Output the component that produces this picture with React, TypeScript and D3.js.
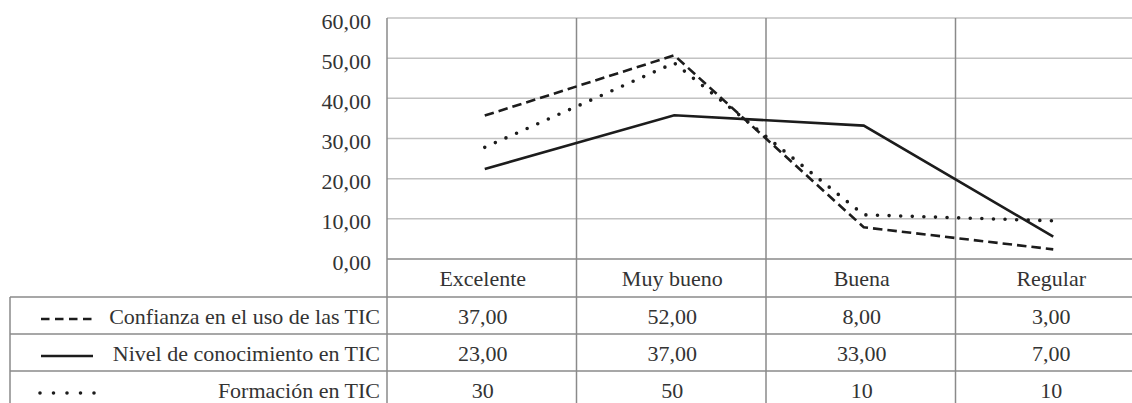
import React from "react";
import * as d3 from "d3";

const categories = ["Excelente", "Muy bueno", "Buena", "Regular"];
const seriesNames = [
  "Confianza en el uso de las TIC",
  "Nivel de conocimiento en TIC",
  "Formación en TIC",
];
// values printed in the data table
const confianzaTable = ["37,00", "52,00", "8,00", "3,00"];
const nivelTable = ["23,00", "37,00", "33,00", "7,00"];
const formacionTable = ["30", "50", "10", "10"];
// values as plotted by the lines
const confianzaPlotted = [35.7, 50.7, 7.9, 2.4];
const nivelPlotted = [22.4, 35.8, 33.2, 5.6];
const formacionPlotted = [27.8, 48.8, 11.0, 9.5];
const yTicks = [0, 10, 20, 30, 40, 50, 60];

const W = 1132;
const H = 403;
const plotLeft = 387;
const plotRight = 1145;
const plotTop = 18;
const plotBottom = 259;
const tableLeft = 10;
const headerH = 38;
const rowH = 37;
const FONT = "Liberation Serif";
const FS = 22;
const TEXT = "#333";
const LINE = "#1c1c1c";

const locale = d3.formatLocale({ decimal: ",", thousands: ".", grouping: [3], currency: ["", ""] });
const fmt = locale.format(".2f");

const styles = [
  { dash: "9.5 5", width: 2.6, cap: "butt" as const },
  { dash: "none", width: 2.6, cap: "butt" as const },
  { dash: "0 11.6", width: 3.6, cap: "round" as const },
];

function Label(props: { x: number; y: number; anchor: "start" | "middle" | "end"; children: React.ReactNode }) {
  return (
    <text
      x={props.x}
      y={props.y}
      textAnchor={props.anchor}
      fontFamily={FONT}
      fontSize={FS}
      fill={TEXT}
      style={{ fontFamily: FONT, fontSize: FS + "px" }}
    >
      {props.children}
    </text>
  );
}

export default function App() {
  const y = d3.scaleLinear().domain([0, 60]).range([plotBottom, plotTop]);
  const x = d3.scaleBand<string>().domain(categories).range([plotLeft, plotRight]);
  const bw = x.bandwidth();
  const px = (c: string) => (x(c) as number) + bw / 2 + 3;
  const tx = (c: string) => (x(c) as number) + bw / 2 + 1;

  const plotted = [confianzaPlotted, nivelPlotted, formacionPlotted];
  const tableVals = [confianzaTable, nivelTable, formacionTable];

  const line = d3
    .line<number>()
    .x((_, i) => px(categories[i]))
    .y((d) => y(d));

  const tableTop = plotBottom + headerH;
  const rowTops = seriesNames.map((_, i) => tableTop + i * rowH);
  const tableBottom = tableTop + seriesNames.length * rowH;
  const boundaries = [...categories.map((c) => x(c) as number), plotRight];

  return (
    <div style={{ position: "absolute", left: 0, top: 0 }}>
      <svg width={W} height={H}>
        {yTicks
          .filter((t) => t > 0)
          .map((t) => (
            <line key={t} x1={plotLeft} x2={plotRight} y1={y(t)} y2={y(t)} stroke="#c2c2c2" strokeWidth={1.5} />
          ))}
        <line x1={plotLeft} x2={plotRight} y1={y(0)} y2={y(0)} stroke="#8a8a8a" strokeWidth={1.5} />
        {[...rowTops, tableBottom].map((ry, i) => (
          <line key={i} x1={tableLeft} x2={plotRight} y1={ry} y2={ry} stroke="#8a8a8a" strokeWidth={1.5} />
        ))}
        <line x1={tableLeft} x2={tableLeft} y1={tableTop} y2={tableBottom} stroke="#8a8a8a" strokeWidth={1.5} />
        {boundaries.map((bx, i) => (
          <line key={i} x1={bx} x2={bx} y1={plotTop} y2={tableBottom} stroke="#8a8a8a" strokeWidth={1.5} />
        ))}
        {yTicks.map((t) => (
          <Label key={t} x={371} y={y(t) + 10.5} anchor="end">
            {fmt(t)}
          </Label>
        ))}
        {categories.map((c) => (
          <Label key={c} x={tx(c)} y={plotBottom + 27} anchor="middle">
            {c}
          </Label>
        ))}
        {seriesNames.map((name, i) => (
          <g key={name}>
            <Label x={380} y={rowTops[i] + 27} anchor="end">
              {name}
            </Label>
            <line
              x1={i === 2 ? 40 : 41}
              x2={i === 2 ? 96 : 93}
              y1={rowTops[i] + 22}
              y2={rowTops[i] + 22}
              stroke={LINE}
              strokeWidth={styles[i].width}
              strokeDasharray={i === 2 ? "0 13.5" : i === 0 ? "8.5 5.5" : styles[i].dash}
              strokeLinecap={styles[i].cap}
            />
            {categories.map((c, j) => (
              <Label key={c} x={tx(c)} y={rowTops[i] + 27} anchor="middle">
                {tableVals[i][j]}
              </Label>
            ))}
          </g>
        ))}
        {plotted.map((vals, i) => (
          <path
            key={i}
            d={line(vals) as string}
            fill="none"
            stroke={LINE}
            strokeWidth={styles[i].width}
            strokeDasharray={styles[i].dash}
            strokeLinecap={styles[i].cap}
            strokeLinejoin="miter"
          />
        ))}
      </svg>
    </div>
  );
}
